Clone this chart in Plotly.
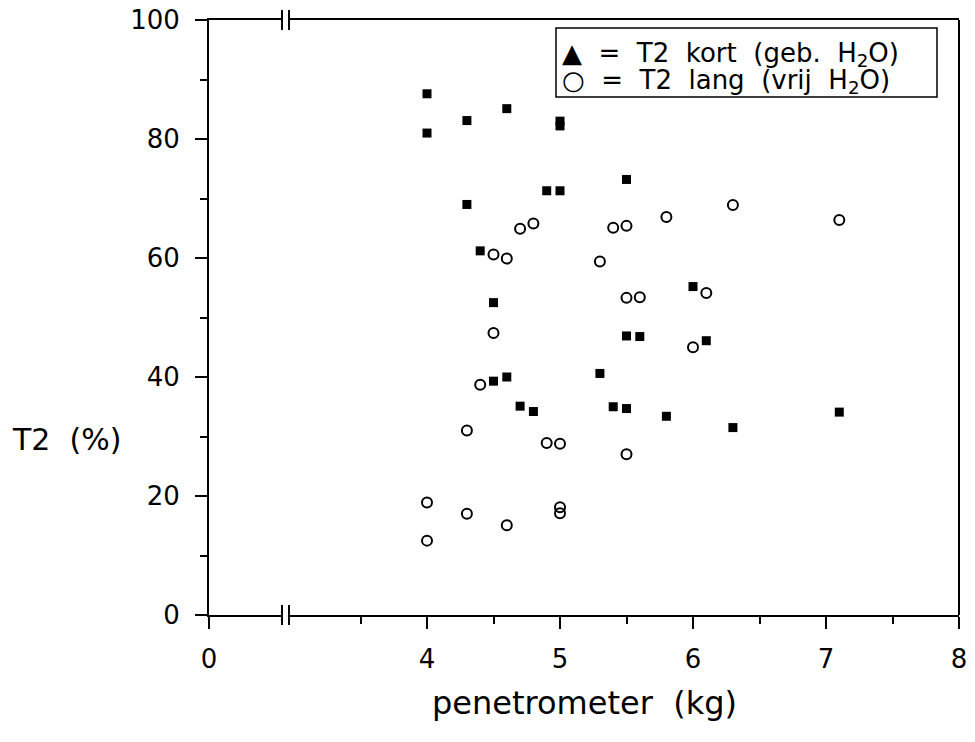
import plotly.graph_objects as go

# T2 kort (gebonden water) - filled markers
kort_x = [4.0, 4.0, 4.3, 4.6, 5.0, 5.0, 5.5, 4.9, 5.0, 4.3, 4.4, 4.5, 5.5,
          5.6, 6.0, 6.1, 5.3, 4.5, 4.6, 4.7, 4.8, 5.4, 5.5, 5.8, 6.3, 7.1]
kort_y = [87.6, 81.0, 83.1, 85.1, 83.0, 82.2, 73.2, 71.3, 71.3, 69.0, 61.2, 52.5, 46.9,
          46.8, 55.2, 46.1, 40.6, 39.3, 40.0, 35.1, 34.2, 35.0, 34.7, 33.4, 31.5, 34.1]

# T2 lang (vrij water) - open markers
lang_x = [4.7, 4.8, 4.5, 4.6, 5.4, 5.5, 5.3, 5.5, 5.6, 5.8, 6.3, 7.1, 6.1,
          6.0, 4.5, 4.4, 4.3, 4.9, 5.0, 5.5, 4.0, 4.0, 4.3, 4.6, 5.0, 5.0]
lang_y = [64.9, 65.8, 60.6, 59.9, 65.1, 65.4, 59.4, 53.3, 53.4, 66.9, 68.9, 66.4, 54.1,
          45.0, 47.4, 38.7, 31.0, 28.9, 28.8, 27.0, 18.9, 12.5, 17.0, 15.1, 18.1, 17.1]

x_major = [4, 5, 6, 7, 8]
x_minor = [3.5, 4.5, 5.5, 6.5, 7.5]
y_major = [0, 20, 40, 60, 80, 100]
y_minor = [10, 30, 50, 70, 90]

FONT = "DejaVu Sans"
OFF = 8  # page body margin
W, H = 975 - OFF, 742 - OFF
# target plot area in screen pixels: x 209..959, y 20..615
ml, mr, mt, mb = 209 - OFF, 975 - 959, 20 - OFF, 742 - 615
pw = W - ml - mr
ph = H - mt - mb
d1 = (282 - 209) / pw
d2 = (289 - 209) / pw
px_per_unit = 133.0
x2_start = 8 - (1 - d2) * pw / px_per_unit


def px(x):
    """screen pixel x -> paper fraction"""
    return (x - 209) / pw


def py(y):
    """screen pixel y -> paper fraction"""
    return (615 - y) / ph


fig = go.Figure()
# empty trace so the left (0 .. break) axis segment exists
fig.add_trace(go.Scatter(x=[], y=[], xaxis="x", yaxis="y", mode="markers",
                         showlegend=False, hoverinfo="skip"))
fig.add_trace(go.Scatter(
    x=kort_x, y=kort_y, mode="markers", xaxis="x2", yaxis="y",
    marker=dict(symbol="square", size=9, color="black", line=dict(width=0)),
    showlegend=False))
fig.add_trace(go.Scatter(
    x=lang_x, y=lang_y, mode="markers", xaxis="x2", yaxis="y",
    marker=dict(symbol="circle-open", size=10, color="black", line=dict(width=2)),
    showlegend=False))

tickfont = dict(family=FONT, size=26, color="black")
axis_common = dict(showline=True, linecolor="black", linewidth=2,
                   showgrid=False, zeroline=False, ticks="outside", ticklen=12,
                   tickwidth=2, tickcolor="black", automargin=False,
                   ticklabeloverflow="allow", tickfont=tickfont)

fig.update_layout(
    width=W, height=H,
    margin=dict(l=ml, r=mr, t=mt, b=mb, autoexpand=False),
    paper_bgcolor="white", plot_bgcolor="white",
    xaxis=dict(domain=[0, d1], range=[0, 0.5], anchor="y", mirror=True,
               tickvals=[0], ticktext=["0"], ticklabelstandoff=8, **axis_common),
    xaxis2=dict(domain=[d2, 1], range=[x2_start, 8], anchor="y", mirror=True,
                tickvals=x_major, ticklabelstandoff=8,
                minor=dict(tickvals=x_minor, ticklen=7, tickwidth=2,
                           ticks="outside", tickcolor="black", showgrid=False),
                **axis_common),
    yaxis=dict(domain=[0, 1], range=[0, 100], anchor="x",
               tickvals=y_major, ticklabelstandoff=10,
               minor=dict(tickvals=y_minor, ticklen=7, tickwidth=2,
                          ticks="outside", tickcolor="black", showgrid=False),
               **axis_common),
)

# right border and axis break marks
fig.add_shape(type="line", xref="paper", yref="paper", x0=1, x1=1, y0=0, y1=1,
              line=dict(color="black", width=2))
for xb in (d1, d2):
    for yb in (0, 1):
        fig.add_shape(type="line", xref="paper", yref="paper",
                      x0=xb, x1=xb, ysizemode="pixel", yanchor=yb, y0=-10, y1=10,
                      line=dict(color="black", width=2))

# legend box
fig.add_shape(type="rect", xref="paper", yref="paper",
              x0=px(556), x1=px(937), y0=py(97), y1=py(28),
              line=dict(color="black", width=1.5), fillcolor="white")
SP = "&nbsp; "
legend_lines = [f"▲{SP}={SP}T2{SP}kort{SP}(geb.{SP}H<sub>2</sub>O)",
                f"○{SP}={SP}T2{SP}lang{SP}(vrij{SP}H<sub>2</sub>O)"]
for txt, yc in zip(legend_lines, (54, 82)):
    fig.add_annotation(xref="paper", yref="paper", x=px(560), y=py(yc),
                       xanchor="left", yanchor="middle", align="left", showarrow=False,
                       text=txt, font=dict(family=FONT, size=26, color="black"))

# axis titles
fig.add_annotation(xref="paper", yref="paper", x=px(66), y=py(440),
                   xanchor="center", yanchor="middle",
                   showarrow=False, text=f"T2{SP}(%)",
                   font=dict(family=FONT, size=30, color="black"))
fig.add_annotation(xref="paper", yref="paper", x=px(584), y=py(703),
                   xanchor="center", yanchor="middle",
                   showarrow=False, text=f"penetrometer{SP}(kg)",
                   font=dict(family=FONT, size=32, color="black"))

fig.write_html("out.html")
